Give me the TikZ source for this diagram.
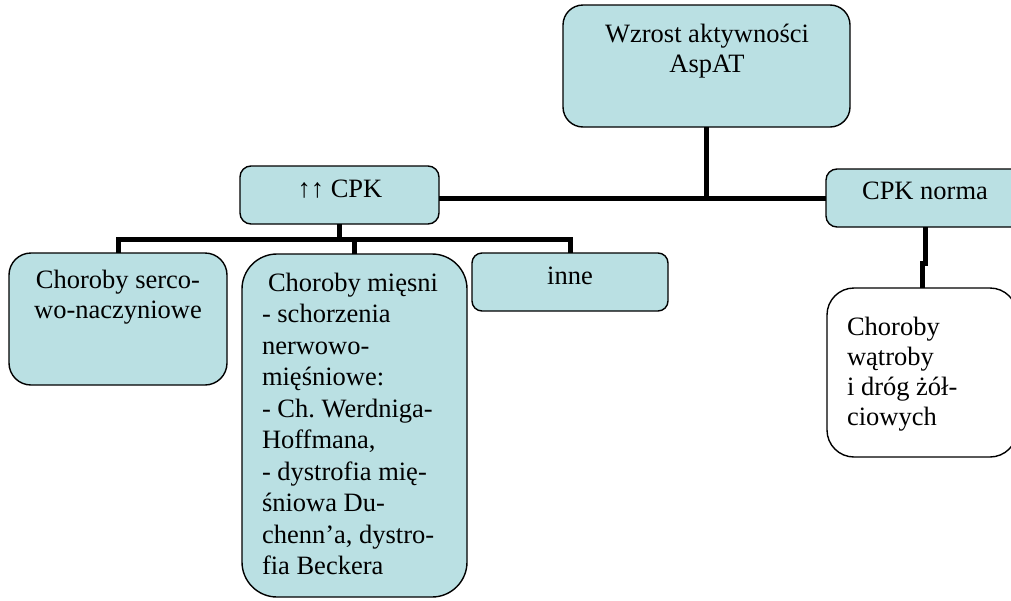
\documentclass[tikz,border=0pt]{standalone}
\usepackage{fontspec}
\setmainfont{Liberation Serif}
\definecolor{boxblue}{RGB}{186,224,227}
\frenchspacing
\begin{document}
\begin{tikzpicture}[x=1pt,y=-1pt,
  box/.style={draw, line width=1.4pt, fill=boxblue, anchor=north west, inner sep=0pt, outer sep=0pt},
  conn/.style={line width=5pt},
  txt/.style={inner sep=0pt, outer sep=0pt, font=\fontsize{26.5}{30}\selectfont}]
\useasboundingbox (0,0) rectangle (1011,600);
% boxes
\node[box, rounded corners=20pt, minimum width=287pt, minimum height=122pt] (top) at (563,5) {};
\node[box, rounded corners=11pt, minimum width=199pt, minimum height=58pt] (cpk) at (240,166) {};
\node[box, rounded corners=11pt, minimum width=198pt, minimum height=58pt] (norma) at (826,169) {};
\node[box, rounded corners=22pt, minimum width=218pt, minimum height=132pt] (serco) at (9,253) {};
\node[box, rounded corners=35pt, minimum width=225pt, minimum height=343pt] (musc) at (242,254) {};
\node[box, rounded corners=10pt, minimum width=196pt, minimum height=58pt] (inne) at (472,253) {};
\node[box, fill=white, rounded corners=27pt, minimum width=190pt, minimum height=169pt] (watr) at (827,288) {};
% texts
\node[txt, anchor=north, align=center] (topt) at (707,24) {Wzrost aktywności\\AspAT};
\node[txt, anchor=base] (cpkt) at (340,197) {↑↑ CPK};
\node[txt, anchor=base] (normat) at (925,199) {CPK norma};
\node[txt, anchor=north, align=center] (sercot) at (118,270) {Choroby serco-\\wo-naczyniowe};
\node[txt, anchor=north west, align=left, font=\fontsize{26.5}{31.5}\selectfont] (musct) at (262,273) {\hspace*{6pt}Choroby mięsni\\- schorzenia\\nerwowo-\\mięśniowe:\\- Ch. Werdniga-\\Hoffmana,\\- dystrofia mię-\\śniowa Du-\\chenn’a, dystro-\\fia Beckera};
\node[txt, anchor=base] (innet) at (570,284) {inne};
\node[txt, anchor=north west, align=left] (watrt) at (847,317) {Choroby\\wątroby\\i dróg żół-\\ciowych};
% connectors
\coordinate (hub) at (top.south |- 0,198);
\coordinate (bus) at (340,239);
\coordinate (jog) at (925,263);
\draw[conn] (top.south) -- (hub);
\draw[conn] (cpk.east |- hub) -- (norma.west |- hub);
\draw[conn] (cpk.south) -- (cpk.south |- bus);
\draw[conn] (serco.north) |- (bus) -| (inne.north);
\draw[conn] (musc.north) -- (musc.north |- bus);
\draw[conn] (norma.south) -- (norma.south |- jog) -| (watr.north);
\end{tikzpicture}
\end{document}
